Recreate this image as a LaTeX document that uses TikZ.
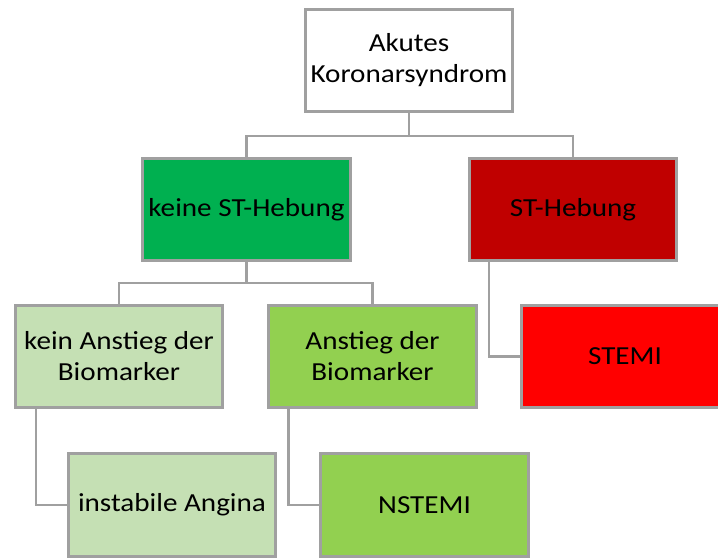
\documentclass[tikz,border=0pt]{standalone}
\usepackage{fontspec}
\setmainfont{Carlito}[FakeStretch=1.12]
\definecolor{linegray}{RGB}{160,160,160}
\definecolor{darkgreen}{RGB}{0,176,80}
\definecolor{darkred}{RGB}{192,0,0}
\definecolor{palegreen}{RGB}{197,224,180}
\definecolor{midgreen}{RGB}{146,208,80}
\definecolor{brightred}{RGB}{255,0,0}

\begin{document}
\begin{tikzpicture}  [box/.style={draw=linegray, line width=1.5pt, minimum width=4.15cm, minimum height=2.05cm, align=center, inner sep=0pt, font=\fontsize{14.8}{17.6}\selectfont},
  conn/.style={linegray, line width=1.5pt}]
\clip (0,0) rectangle (14.36,-11.14);
\node[box, fill=white] (acs) at (8.18,-1.21) {Akutes\\Koronarsyndrom};
\node[box, fill=darkgreen] (nost) at (4.93,-4.19) {keine ST-Hebung};
\node[box, fill=darkred] (st) at (11.46,-4.19) {ST-Hebung};
\node[box, fill=palegreen] (nomark) at (2.38,-7.13) {kein Anstieg der\\Biomarker};
\node[box, fill=midgreen] (mark) at (7.45,-7.13) {Anstieg der\\Biomarker};
\node[box, fill=brightred] (stemi) at (12.5,-7.13) {STEMI};
\node[box, fill=palegreen] (ua) at (3.44,-10.1) {instabile Angina};
\node[box, fill=midgreen] (nstemi) at (8.49,-10.1) {NSTEMI};

% tree lines
\draw[conn] (acs.south) --++(0,-.46) -| (nost.north);
\draw[conn] (acs.south) --++(0,-.46) -| (st.north);
\draw[conn] (nost.south) --++(0,-.42) -| (nomark.north);
\draw[conn] (nost.south) --++(0,-.42) -| (mark.north);
\draw[conn] ([xshift=.42cm]st.south west) |- (stemi.west);
\draw[conn] ([xshift=.44cm]nomark.south west) |- (ua.west);
\draw[conn] ([xshift=.42cm]mark.south west) |- (nstemi.west);

\end{tikzpicture}
\end{document}
